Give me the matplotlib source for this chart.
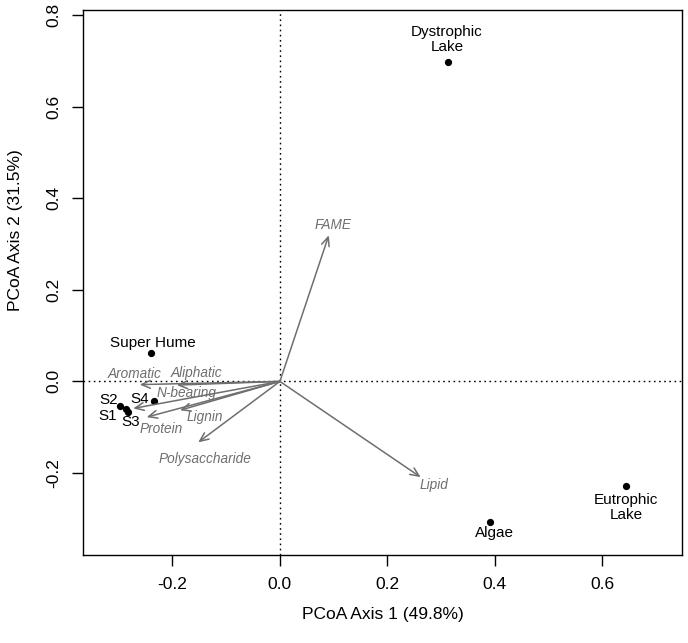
import matplotlib
matplotlib.use("Agg")
import matplotlib.pyplot as plt

plt.rcParams["font.family"] = ["Liberation Sans", "DejaVu Sans"]

# sample scores
site_names = ["Dystrophic\nLake", "Eutrophic\nLake", "Algae", "Super Hume",
              "S1", "S2", "S3", "S4"]
site_x = [0.313, 0.644, 0.391, -0.240, -0.287, -0.297, -0.283, -0.235]
site_y = [0.698, -0.229, -0.306, 0.062, -0.061, -0.054, -0.066, -0.043]

# compound class vectors
vec_names = ["FAME", "Lipid", "Aromatic", "Aliphatic", "N-bearing",
             "Protein", "Lignin", "Polysaccharide"]
vec_x = [0.091, 0.262, -0.261, -0.192, -0.273, -0.248, -0.186, -0.152]
vec_y = [0.319, -0.209, -0.007, -0.008, -0.059, -0.078, -0.063, -0.133]

xticks = [-0.2, 0.0, 0.2, 0.4, 0.6]
yticks = [-0.2, 0.0, 0.2, 0.4, 0.6, 0.8]

# label offsets (pixels) from the marks
site_off = [(-1, 22), (0, -21), (5, -11), (2, 10),
            (-18, -7), (-12, 6), (3, -10), (-14, 2)]
vec_off = [(4, 10), (13, -8), (-5, 11), (20, 12), (53, 15),
           (15, -12), (25, -7), (7, -17)]

W, H = 688, 643
fig = plt.figure(figsize=(W / 100, H / 100), dpi=100)
ax = fig.add_axes([83.3 / W, 1 - 555 / H, (681.7 - 83.3) / W, (555 - 9.5) / H])
ax.set_xlim(-0.366, 0.748)
ax.set_ylim(-0.379, 0.812)

ax.axhline(0, color="black", lw=1, ls=(0, (1.2, 2.5)))
ax.axvline(0, color="black", lw=1, ls=(0, (1.2, 2.5)))

grey = "#6e6e6e"
for name, vx, vy, (dx, dy) in zip(vec_names, vec_x, vec_y, vec_off):
    ax.annotate("", xy=(vx, vy), xytext=(0, 0),
                arrowprops=dict(arrowstyle="->,head_length=0.45,head_width=0.2",
                                color=grey, lw=1.1, shrinkA=0, shrinkB=0,
                                mutation_scale=14))
    ax.annotate(name, xy=(vx, vy), xytext=(dx, dy), textcoords="offset pixels",
                ha="center", va="center", fontsize=9.8, style="italic",
                color=grey)

ax.plot(site_x, site_y, "o", color="black", ms=4.2, ls="none")
for name, sx, sy, (dx, dy) in zip(site_names, site_x, site_y, site_off):
    ax.annotate(name, xy=(sx, sy), xytext=(dx, dy), textcoords="offset pixels",
                ha="center", va="center", fontsize=11, color="black",
                linespacing=1.05)

ax.set_xticks(xticks)
ax.set_xticklabels([f"{t:.1f}" for t in xticks])
ax.set_yticks(yticks)
ax.set_yticklabels([f"{t:.1f}" for t in yticks], rotation=90, va="center")
ax.tick_params(direction="out", length=8, width=1, labelsize=12.5, pad=8)
for s in ax.spines.values():
    s.set_linewidth(1)

fig.text(382.5 / W, 1 - 614 / H, "PCoA Axis 1 (49.8%)", ha="center",
         va="center", fontsize=12.5)
fig.text(16 / W, 1 - 230 / H, "PCoA Axis 2 (31.5%)", ha="center",
         va="center", fontsize=12.5, rotation=90)

fig.savefig("out.png", dpi=100)
